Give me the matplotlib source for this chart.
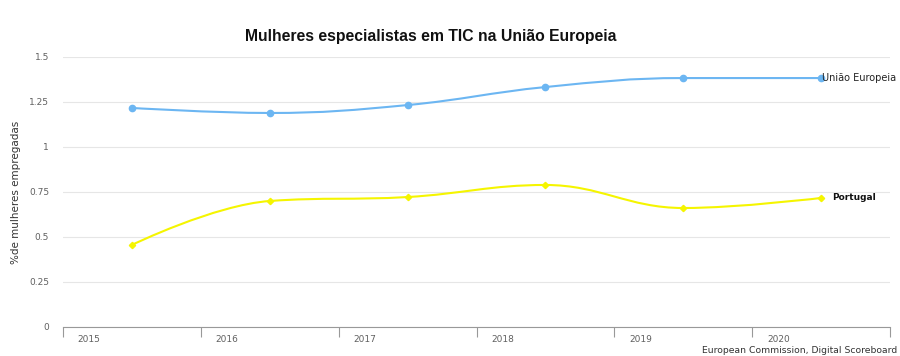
import matplotlib
matplotlib.use("Agg")
import matplotlib.pyplot as plt
from matplotlib.path import Path
from matplotlib.patches import PathPatch
import numpy as np

# data
years = ["2015", "2016", "2017", "2018", "2019", "2020"]
ue_values = [1.217, 1.189, 1.233, 1.333, 1.383, 1.383]
pt_values = [0.456, 0.700, 0.722, 0.789, 0.661, 0.717]
y_ticks = [0, 0.25, 0.5, 0.75, 1, 1.25, 1.5]


def spline_path(xs, ys, smoothing=1.5):
    # highcharts-like spline through the points
    denom = smoothing + 1
    n = len(xs)
    left = [(xs[i], ys[i]) for i in range(n)]
    right = [(xs[i], ys[i]) for i in range(n)]
    for i in range(1, n - 1):
        px, py = xs[i], ys[i]
        lx, ly = xs[i - 1], ys[i - 1]
        nx, ny = xs[i + 1], ys[i + 1]
        lcx = (smoothing * px + lx) / denom
        lcy = (smoothing * py + ly) / denom
        rcx = (smoothing * px + nx) / denom
        rcy = (smoothing * py + ny) / denom
        corr = (rcy - lcy) * (rcx - px) / (rcx - lcx) + py - rcy
        lcy += corr
        rcy += corr
        if lcy > ly and lcy > py:
            lcy = max(ly, py); rcy = 2 * py - lcy
        elif lcy < ly and lcy < py:
            lcy = min(ly, py); rcy = 2 * py - lcy
        if rcy > ny and rcy > py:
            rcy = max(ny, py); lcy = 2 * py - rcy
        elif rcy < ny and rcy < py:
            rcy = min(ny, py); lcy = 2 * py - rcy
        left[i] = (lcx, lcy)
        right[i] = (rcx, rcy)
    verts = [(xs[0], ys[0])]
    codes = [Path.MOVETO]
    for i in range(1, n):
        verts += [right[i - 1], left[i], (xs[i], ys[i])]
        codes += [Path.CURVE4] * 3
    return Path(verts, codes)


fig = plt.figure(figsize=(9, 3.56), dpi=100)
ax = fig.add_axes([0.07, 0.0815, 0.9189, 0.7584])

x = np.arange(len(years))
blue = "#6cb6f2"
yellow = "#f5f500"

for vals, col, mk, ms in [(ue_values, blue, "o", 4.5), (pt_values, yellow, "D", 3.2)]:
    ax.add_patch(PathPatch(spline_path(list(x), vals), facecolor="none",
                           edgecolor=col, lw=1.5, zorder=3))
    ax.plot(x, vals, linestyle="none", marker=mk, ms=ms, color=col, zorder=4)

ax.text(x[-1] + 0.01, ue_values[-1], "União Europeia", fontsize=7,
        va="center", ha="left", color="#222222", zorder=5)
ax.text(x[-1] + 0.08, pt_values[-1], "Portugal", fontsize=6.5, fontweight="bold",
        va="center", ha="left", color="#111111", zorder=5)

ax.set_xlim(-0.5, len(years) - 0.5)
ax.set_ylim(0, 1.5)
ax.set_yticks(y_ticks)
ax.set_yticklabels([f"{v:g}" for v in y_ticks], fontsize=6.5, color="#606060")
ax.tick_params(axis="y", length=0, pad=10)
ax.grid(axis="y", color="#e6e6e6", lw=0.8)
ax.set_axisbelow(True)

ax.set_xticks(np.arange(-0.5, len(years), 1.0))
ax.set_xticklabels([])
ax.tick_params(axis="x", length=7, color="#999999", width=0.8)
for i, yr in enumerate(years):
    ax.text(i - 0.31, -0.045, yr, transform=ax.get_xaxis_transform(),
            ha="center", va="center", fontsize=6.5, color="#606060")

for s in ["top", "right", "left"]:
    ax.spines[s].set_visible(False)
ax.spines["bottom"].set_color("#999999")
ax.spines["bottom"].set_linewidth(0.8)

ax.set_ylabel("%de mulheres empregadas", fontsize=7.5, color="#333333", labelpad=6)

fig.text(0.479, 0.898, "Mulheres especialistas em TIC na União Europeia",
         ha="center", va="center", fontsize=11.3, family="Liberation Sans",
         fontweight="bold", color="#111111")
fig.text(0.997, 0.002, "European Commission, Digital Scoreboard", ha="right",
         va="bottom", fontsize=6.7, color="#333333")

fig.savefig("out.png", dpi=100)
